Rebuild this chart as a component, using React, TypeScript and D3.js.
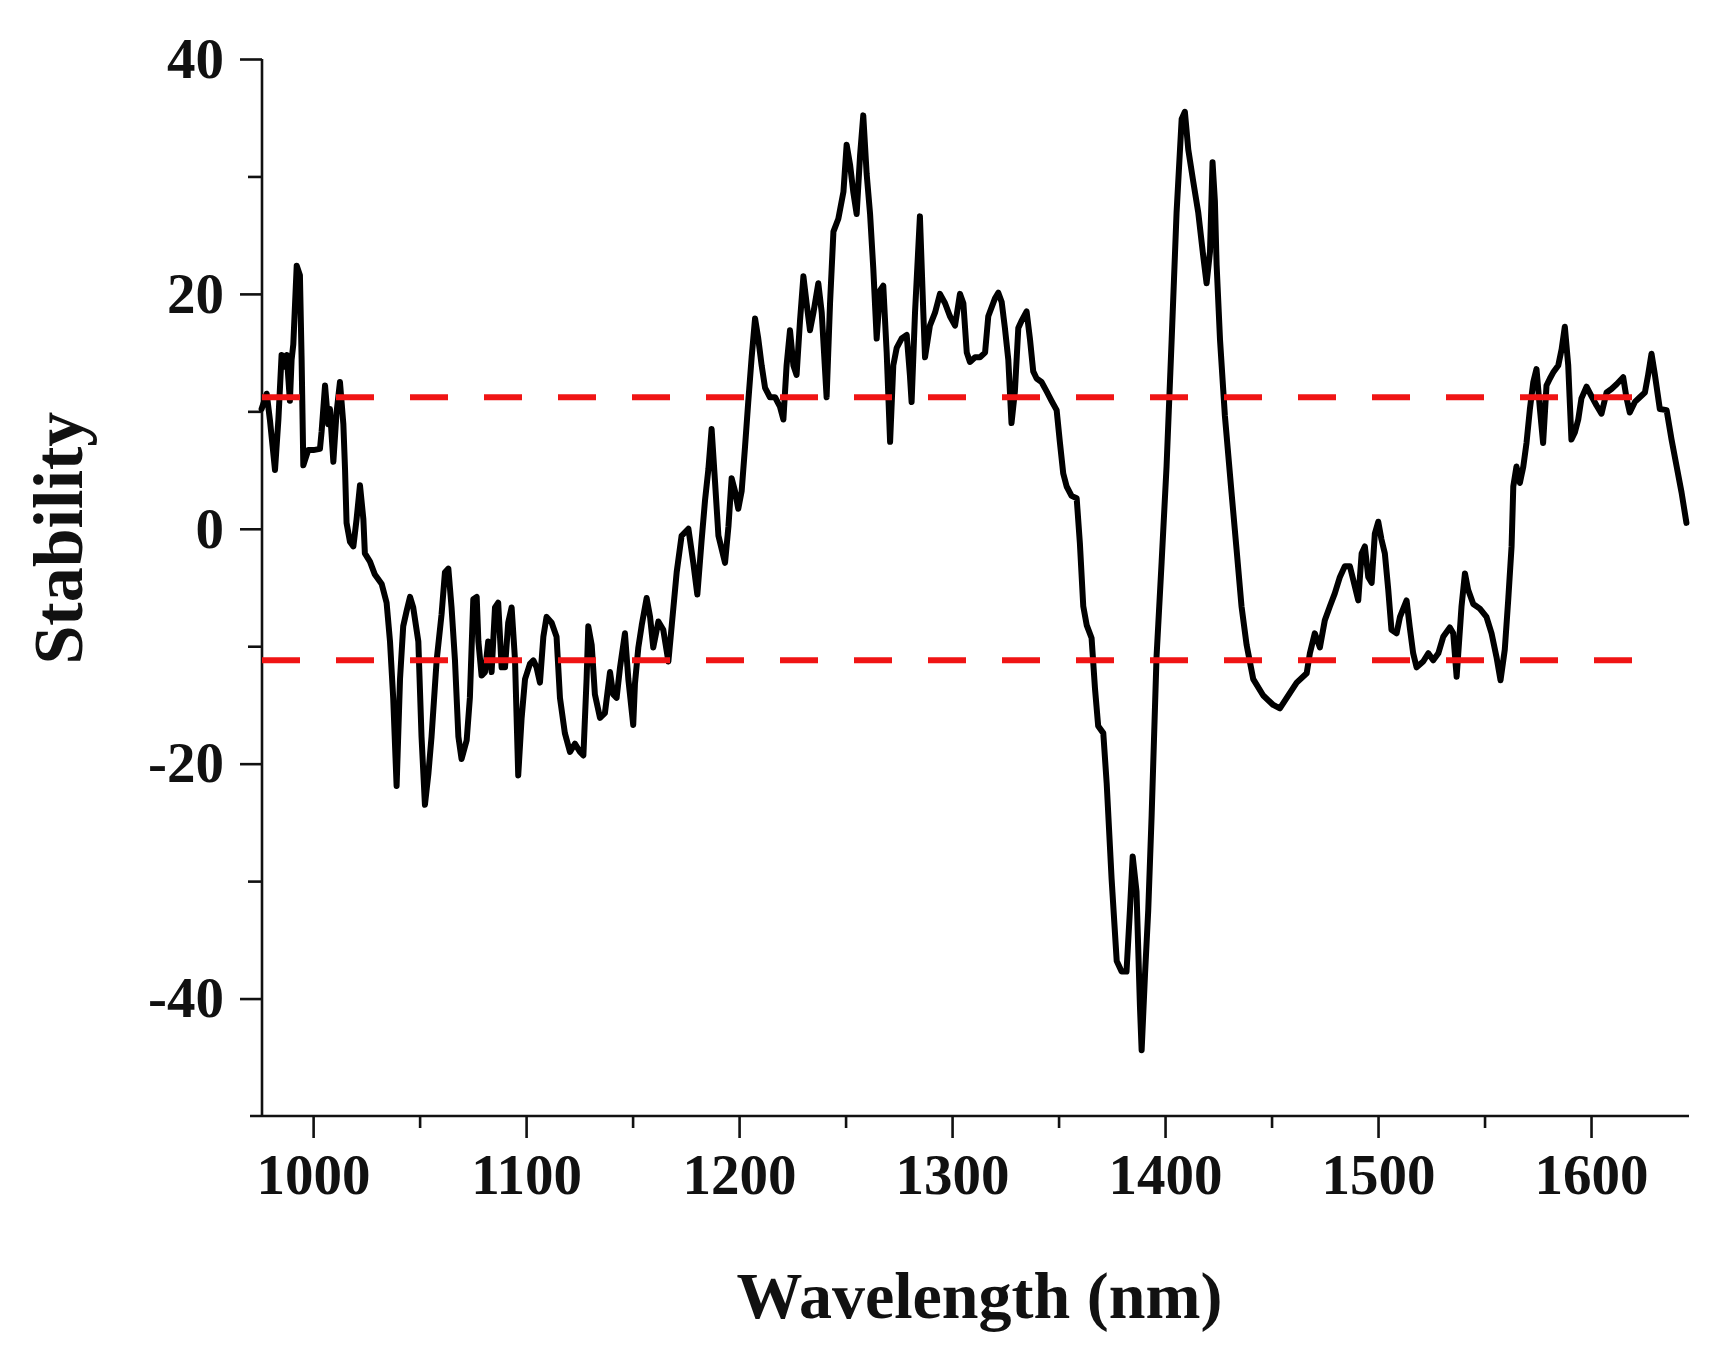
import { useEffect, useRef } from 'react';
import * as d3 from 'd3';

// wavelength (nm) and stability values
const wavelength = [
  975.8, 978.2, 979.7, 982.1, 983.7, 985.2, 986.8, 987.6, 989.1, 989.9, 990.7, 992.3, 993.8, 994.6, 995.4,
  997.7, 1000.1, 1003.2, 1004.0, 1005.6, 1007.1, 1007.9, 1009.5, 1011.0, 1012.6, 1014.2, 1015.0, 1015.7,
  1017.3, 1018.9, 1020.4, 1022.0, 1023.6, 1024.3, 1026.7, 1029.0, 1032.2, 1034.5, 1036.1, 1037.6, 1039.2,
  1040.8, 1042.3, 1043.9, 1045.5, 1047.0, 1049.4, 1050.9, 1052.5, 1054.1, 1055.6, 1058.0, 1060.3, 1061.9,
  1063.5, 1065.0, 1066.6, 1068.2, 1069.7, 1072.1, 1073.6, 1075.2, 1076.8, 1077.6, 1079.1, 1080.7, 1082.2,
  1083.8, 1085.4, 1086.9, 1088.5, 1090.1, 1091.6, 1093.2, 1094.8, 1096.3, 1097.9, 1099.5, 1101.8, 1103.4,
  1104.9, 1106.5, 1108.1, 1109.6, 1112.0, 1114.3, 1115.9, 1118.2, 1120.6, 1122.9, 1125.3, 1126.9, 1128.4,
  1129.2, 1130.8, 1132.3, 1134.7, 1137.0, 1139.4, 1140.9, 1142.5, 1144.1, 1146.4, 1148.0, 1150.3,
  1151.1, 1152.7, 1154.3, 1156.6, 1158.2, 1159.7, 1162.1, 1164.4, 1166.8, 1168.4, 1170.7, 1173.0, 1176.2,
  1178.5, 1180.4, 1182.4, 1184.0, 1185.6, 1187.1, 1188.7, 1190.3, 1193.4, 1195.0, 1196.5, 1198.1, 1199.6,
  1201.2, 1202.8, 1204.3, 1205.9, 1207.5, 1209.0, 1210.6, 1212.2, 1214.5, 1216.9, 1219.2, 1220.8, 1222.3,
  1223.9, 1225.5, 1227.0, 1228.6, 1230.2, 1231.7, 1233.3, 1234.9, 1237.2, 1238.8, 1241.1, 1242.7, 1244.3,
  1246.6, 1249.0, 1250.5, 1252.1, 1253.6, 1255.2, 1256.8, 1258.3, 1259.9, 1261.5, 1263.0, 1264.6, 1266.2,
  1267.7, 1269.3, 1270.9, 1272.4, 1274.0, 1276.3, 1278.7, 1280.2, 1281.0, 1282.6, 1284.9, 1286.5, 1287.3,
  1289.6, 1292.0, 1294.3, 1296.7, 1299.0, 1301.4, 1303.7, 1305.3, 1306.9, 1308.4, 1310.8, 1313.1, 1315.5,
  1317.0, 1320.1, 1321.7, 1323.3, 1324.8, 1326.4, 1327.9, 1329.5, 1331.1, 1332.6, 1335.0, 1336.6, 1338.1,
  1339.7, 1342.0, 1344.4, 1346.7, 1349.1, 1350.6, 1352.2, 1353.8, 1356.1, 1358.5, 1360.0, 1361.6, 1363.2,
  1365.5, 1367.1, 1368.6, 1371.0, 1372.6, 1374.9, 1377.3, 1379.6, 1381.9, 1383.5, 1384.8, 1386.6, 1388.2,
  1389.0, 1390.6, 1392.1, 1393.7, 1396.0, 1398.4, 1400.7, 1403.1, 1405.4, 1407.8, 1409.3, 1410.9, 1413.2,
  1415.6, 1418.0, 1419.5, 1421.1, 1422.3, 1423.4, 1424.2, 1425.8, 1428.1, 1431.2, 1433.6, 1435.9, 1438.3,
  1441.4, 1446.1, 1450.8, 1453.9, 1457.8, 1461.8, 1466.5, 1468.0, 1470.3, 1472.7, 1475.0, 1477.4, 1479.7,
  1482.1, 1484.4, 1486.8, 1489.1, 1490.7, 1492.3, 1493.8, 1495.4, 1497.0, 1498.5, 1500.1, 1501.6, 1503.2,
  1504.8, 1506.3, 1508.7, 1510.3, 1513.4, 1514.9, 1516.5, 1518.1, 1521.2, 1523.6, 1525.9, 1528.3, 1530.6,
  1533.7, 1535.3, 1536.9, 1539.2, 1540.8, 1542.3, 1544.7, 1547.8, 1550.9, 1553.3, 1555.6, 1557.5, 1559.5,
  1561.1, 1562.7, 1563.5, 1565.0, 1566.6, 1568.2, 1569.7, 1571.3, 1572.9, 1574.4, 1576.0, 1577.5, 1579.1,
  1580.7, 1582.2, 1584.6, 1586.2, 1587.7, 1589.3, 1590.8, 1592.4, 1594.0, 1595.5, 1597.9, 1600.2, 1602.6,
  1604.9, 1607.3, 1609.6, 1612.0, 1615.1, 1616.7, 1618.2, 1620.6, 1622.9, 1625.3, 1626.8, 1628.4, 1630.0,
  1632.3, 1635.5, 1637.8, 1640.2, 1642.5, 1644.8,
];

const stability = [
  10.2, 11.5, 9.3, 5.0, 9.3, 14.8, 13.8, 14.8, 10.9, 14.4, 15.7, 22.4, 21.6, 14.4, 5.4,
  6.7, 6.7, 6.8, 8.3, 12.2, 8.9, 10.2, 5.7, 9.9, 12.5, 8.9, 5.0, 0.5,
  -1.1, -1.5, 0.8, 3.7, 0.8, -2.1, -2.8, -3.9, -4.7, -6.3, -9.6, -14.4, -21.9,
  -12.8, -8.3, -7.0, -5.8, -6.7, -9.6, -17.7, -23.5, -20.9, -17.7, -11.2, -7.3, -3.7,
  -3.4, -6.7, -11.2, -17.7, -19.6, -18.0, -14.4, -6.0, -5.8, -9.6, -12.5, -12.2, -9.6,
  -12.2, -6.7, -6.3, -11.8, -11.8, -8.0, -6.7, -11.2, -21.0, -16.1, -12.8, -11.5, -11.2,
  -11.8, -13.1, -9.2, -7.5, -8.0, -9.2, -14.4, -17.4, -19.0, -18.3, -19.0, -19.3, -12.8,
  -8.3, -9.9, -14.1, -16.1, -15.7, -12.2, -14.1, -14.4, -11.8, -8.9, -12.8, -16.7,
  -13.2, -10.1, -8.2, -5.9, -7.5, -10.1, -7.9, -8.6, -11.3, -8.2, -3.7, -0.6, 0.0,
  -2.9, -5.6, -1.0, 2.4, 5.1, 8.5, 4.0, -0.6, -2.9, 0.2, 4.3, 3.2, 1.7,
  3.2, 7.0, 10.8, 14.6, 17.9, 16.2, 13.9, 12.0, 11.2, 11.2, 10.4, 9.3, 13.9,
  16.9, 13.9, 13.1, 17.7, 21.5, 19.2, 16.9, 18.4, 20.9, 18.4, 11.2, 19.2, 25.3,
  26.4, 28.7, 32.7, 31.0, 28.7, 26.8, 31.8, 35.2, 30.2, 26.8, 22.2, 16.2, 20.3,
  20.7, 15.0, 7.4, 13.9, 15.4, 16.2, 16.5, 13.1, 10.8, 18.4, 26.6, 18.4, 14.6,
  17.3, 18.4, 20.0, 19.2, 18.1, 17.3, 20.0, 19.2, 15.0, 14.2, 14.6, 14.6, 15.0,
  18.1, 19.6, 20.1, 19.3, 17.1, 14.4, 9.0, 11.7, 17.1, 17.7, 18.5, 16.1, 13.4,
  12.8, 12.5, 11.7, 10.9, 10.1, 7.4, 4.7, 3.6, 2.8, 2.6, -1.2, -6.6, -8.2,
  -9.3, -13.6, -16.8, -17.4, -21.7, -29.8, -36.8, -37.7, -37.7, -32.5, -27.9, -30.9, -40.6,
  -44.4, -37.9, -32.5, -24.4, -10.9, -2.8, 5.3, 16.1, 26.9, 34.9, 35.5, 32.3, 29.6,
  26.9, 23.1, 20.9, 23.6, 31.2, 27.9, 22.5, 16.1, 9.6, 3.1, -1.8, -6.6, -9.9,
  -12.8, -14.2, -15.0, -15.3, -14.2, -13.1, -12.3, -10.6, -8.9, -10.1, -7.8, -6.6, -5.5,
  -4.1, -3.2, -3.2, -4.9, -6.1, -2.1, -1.5, -4.1, -4.6, -0.4, 0.6, -0.9, -2.1,
  -5.2, -8.6, -8.9, -7.5, -6.1, -8.4, -10.6, -11.8, -11.3, -10.6, -11.2, -10.6, -9.2,
  -8.4, -8.9, -12.6, -6.6, -3.8, -5.2, -6.4, -6.8, -7.5, -8.9, -10.9, -12.9, -10.3,
  -6.1, -1.5, 3.6, 5.3, 3.9, 5.3, 7.3, 10.2, 12.5, 13.6, 10.2, 7.3, 12.2,
  12.8, 13.3, 13.9, 15.3, 17.2, 13.9, 7.6, 8.2, 9.3, 11.1, 12.1, 11.3, 10.5,
  9.8, 11.6, 11.9, 12.3, 12.9, 11.1, 9.9, 10.8, 11.2, 11.6, 13.1, 14.9, 13.1,
  10.2, 10.1, 7.6, 5.3, 3.1, 0.5,
];

// +/- threshold lines
const thresholds = [11.2, -11.2];
const thresholdEnd = 1628;

const xMajorTicks = [1000, 1100, 1200, 1300, 1400, 1500, 1600];
const xMinorTicks = [1050, 1150, 1250, 1350, 1450, 1550];
const yMajorTicks = [-40, -20, 0, 20, 40];
const yMinorTicks = [-30, -10, 10, 30];

const FONT = "'Liberation Serif', 'Times New Roman', serif";

export default function App() {
  const svgRef = useRef<SVGSVGElement | null>(null);

  useEffect(() => {
    const svg = svgRef.current;
    if (!svg) return;

    const width = 1722;
    const height = 1350;
    const left = 262;
    const right = 1689;
    const top = 59;
    const bottom = 1116;

    const x = d3.scaleLinear().domain([976, 1646]).range([left, right]);
    const y = d3.scaleLinear().domain([-50, 40]).range([bottom, top]);

    const data = wavelength.map((w, i) => ({ w, s: stability[i] }));

    const root = d3.select(svg);
    root.attr('viewBox', `0 0 ${width} ${height}`);
    root.selectAll('*').remove();

    root.append('rect').attr('width', width).attr('height', height).attr('fill', '#ffffff');

    const styleAxis = (g: any) => {
      g.selectAll('path,line').attr('stroke', '#111').attr('stroke-width', 2.6);
      g.selectAll('text')
        .attr('fill', '#111')
        .attr('font-family', FONT)
        .attr('font-weight', 'bold')
        .attr('font-size', 57);
    };

    // plain hyphen for negatives, as in the original figure
    const label = (d: any) => String(d);

    // x axis
    root
      .append('g')
      .attr('transform', `translate(0,${bottom})`)
      .call(d3.axisBottom(x).tickValues(xMinorTicks).tickSize(12).tickSizeOuter(0).tickFormat(() => ''))
      .call(styleAxis)
      .call((g) => g.select('.domain').remove());

    root
      .append('g')
      .attr('transform', `translate(0,${bottom})`)
      .call(d3.axisBottom(x).tickValues(xMajorTicks).tickSize(22).tickSizeOuter(0).tickPadding(16).tickFormat(label))
      .call(styleAxis)
      .call((g) => g.select('.domain').attr('d', `M${left - 12},0H${right}`));

    // y axis
    root
      .append('g')
      .attr('transform', `translate(${left},0)`)
      .call(d3.axisLeft(y).tickValues(yMinorTicks).tickSize(14).tickSizeOuter(0).tickFormat(() => ''))
      .call(styleAxis)
      .call((g) => g.select('.domain').remove());

    root
      .append('g')
      .attr('transform', `translate(${left},0)`)
      .call(d3.axisLeft(y).tickValues(yMajorTicks).tickSize(22).tickSizeOuter(0).tickPadding(16).tickFormat(label))
      .call(styleAxis)
      .call((g) => g.select('.domain').attr('d', `M0,${top}V${bottom}`));

    const line = d3
      .line<{ w: number; s: number }>()
      .x((d) => x(d.w))
      .y((d) => y(d.s));

    root
      .append('path')
      .datum(data)
      .attr('fill', 'none')
      .attr('stroke', '#000')
      .attr('stroke-width', 6)
      .attr('stroke-linejoin', 'round')
      .attr('stroke-linecap', 'round')
      .attr('d', line as any);

    root
      .selectAll('line.threshold')
      .data(thresholds)
      .join('line')
      .attr('class', 'threshold')
      .attr('x1', x(976))
      .attr('x2', x(thresholdEnd))
      .attr('y1', (d) => y(d))
      .attr('y2', (d) => y(d))
      .attr('stroke', '#f01414')
      .attr('stroke-width', 6)
      .attr('stroke-dasharray', '38 36');

    root
      .append('text')
      .attr('x', (left + right) / 2 + 4)
      .attr('y', 1318)
      .attr('text-anchor', 'middle')
      .attr('font-family', FONT)
      .attr('font-weight', 'bold')
      .attr('font-size', 66)
      .attr('fill', '#111')
      .text('Wavelength (nm)');

    root
      .append('text')
      .attr('transform', `translate(82,${y(-0.8)}) rotate(-90)`)
      .attr('text-anchor', 'middle')
      .attr('font-family', FONT)
      .attr('font-weight', 'bold')
      .attr('font-size', 70)
      .attr('fill', '#111')
      .text('Stability');
  }, []);

  return (
    <svg
      ref={svgRef}
      width={1722}
      height={1350}
      style={{ position: 'absolute', left: 0, top: 0, display: 'block' }}
    />
  );
}
